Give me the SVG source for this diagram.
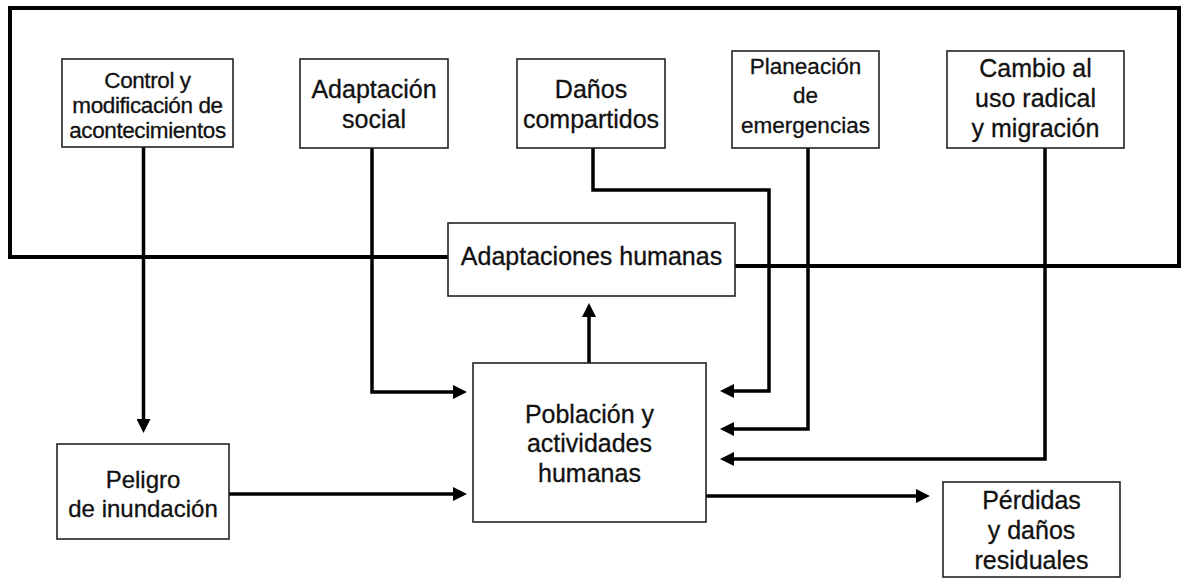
<svg xmlns="http://www.w3.org/2000/svg" width="1182" height="579" viewBox="0 0 1182 579">
<style>
.box{fill:#fff;stroke:#222;stroke-width:1.6}
.t{font-family:"Liberation Sans",Arial,sans-serif;font-size:25px;fill:#111;stroke:#111;stroke-width:0.3;text-anchor:middle}
.c{stroke:#000;stroke-width:3.5;fill:none}
.frame{stroke:#000;stroke-width:4;fill:none}
</style>
<defs>
<marker id="ah" markerWidth="14" markerHeight="14" refX="10" refY="7" orient="auto" markerUnits="userSpaceOnUse"><path d="M0,0 L14,7 L0,14 z" fill="#000"/></marker>
</defs>
<rect width="1182" height="579" fill="#fff"/>
<g id="connectors">
<path class="frame" d="M448,257 H10 V8 H1179 V266 H735"/>
<path class="c" d="M143.5,147 V429" marker-end="url(#ah)"/>
<path class="c" d="M372,148 V392 H463" marker-end="url(#ah)"/>
<path class="c" d="M593,148 V190 H769 V391 H724" marker-end="url(#ah)"/>
<path class="c" d="M808,148 V429 H724" marker-end="url(#ah)"/>
<path class="c" d="M1045,148 V459 H724" marker-end="url(#ah)"/>
<path class="c" d="M589,363 V307" marker-end="url(#ah)"/>
<path class="c" d="M229,494 H463" marker-end="url(#ah)"/>
<path class="c" d="M706,496 H926" marker-end="url(#ah)"/>
</g>
<g id="control">
<rect class="box" x="62" y="59" width="171" height="88"/>
<text class="t" style="font-size:22.5px;letter-spacing:-0.4px"><tspan x="147.5" y="88">Control y</tspan><tspan x="147.5" y="113">modificación de</tspan><tspan x="147.5" y="138">acontecimientos</tspan></text>
</g>
<g id="adaptacion-social">
<rect class="box" x="300" y="59" width="148" height="89"/>
<text class="t"><tspan x="374" y="98">Adaptación</tspan><tspan x="374" y="128">social</tspan></text>
</g>
<g id="danos-compartidos">
<rect class="box" x="517" y="59" width="148" height="89"/>
<text class="t"><tspan x="591" y="98">Daños</tspan><tspan x="591" y="128">compartidos</tspan></text>
</g>
<g id="planeacion">
<rect class="box" x="732" y="51" width="147" height="97"/>
<text class="t" style="font-size:22.5px"><tspan x="805.5" y="74">Planeación</tspan><tspan x="805.5" y="103">de</tspan><tspan x="805.5" y="133">emergencias</tspan></text>
</g>
<g id="cambio">
<rect class="box" x="947" y="51" width="177" height="97"/>
<text class="t"><tspan x="1035.5" y="77">Cambio al</tspan><tspan x="1035.5" y="107">uso radical</tspan><tspan x="1035.5" y="137">y migración</tspan></text>
</g>
<g id="adaptaciones-humanas">
<rect class="box" x="448" y="223" width="287" height="73"/>
<text class="t" x="591.5" y="265">Adaptaciones humanas</text>
</g>
<g id="poblacion">
<rect class="box" x="473" y="363" width="233" height="159"/>
<text class="t"><tspan x="589.5" y="423">Población y</tspan><tspan x="589.5" y="452">actividades</tspan><tspan x="589.5" y="482">humanas</tspan></text>
</g>
<g id="peligro">
<rect class="box" x="57" y="444" width="172" height="95"/>
<text class="t" style="font-size:24px"><tspan x="143" y="488">Peligro</tspan><tspan x="143" y="517">de inundación</tspan></text>
</g>
<g id="perdidas">
<rect class="box" x="943" y="482" width="177" height="95"/>
<text class="t"><tspan x="1031.5" y="509">Pérdidas</tspan><tspan x="1031.5" y="539">y daños</tspan><tspan x="1031.5" y="569">residuales</tspan></text>
</g>
</svg>
